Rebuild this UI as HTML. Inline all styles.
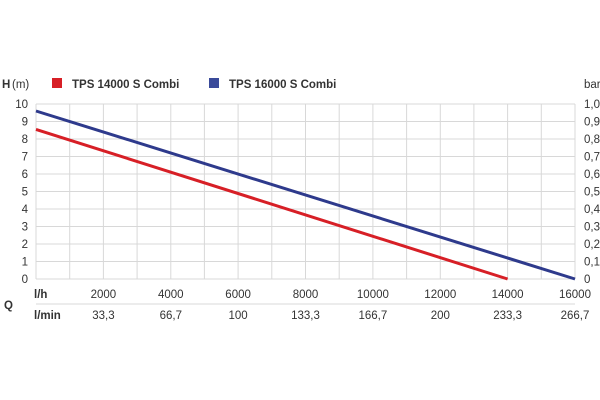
<!DOCTYPE html>
<html><head><style>body{margin:0;background:#fff}svg{display:block}text{font-family:"Liberation Sans",sans-serif;fill:#333;font-size:11.5px}.b{font-weight:bold}</style></head><body>
<svg width="600" height="400" xmlns="http://www.w3.org/2000/svg">
<g stroke="#d8d8d8" stroke-width="1">
<line x1="36" y1="104" x2="575" y2="104"/><line x1="36" y1="121.5" x2="575" y2="121.5"/><line x1="36" y1="139" x2="575" y2="139"/><line x1="36" y1="156.5" x2="575" y2="156.5"/><line x1="36" y1="174" x2="575" y2="174"/><line x1="36" y1="191.5" x2="575" y2="191.5"/><line x1="36" y1="209" x2="575" y2="209"/><line x1="36" y1="226.5" x2="575" y2="226.5"/><line x1="36" y1="244" x2="575" y2="244"/><line x1="36" y1="261.5" x2="575" y2="261.5"/><line x1="36" y1="279" x2="575" y2="279"/>
<line x1="36" y1="104" x2="36" y2="279"/><line x1="69.7" y1="104" x2="69.7" y2="279"/><line x1="103.4" y1="104" x2="103.4" y2="279"/><line x1="137.1" y1="104" x2="137.1" y2="279"/><line x1="170.8" y1="104" x2="170.8" y2="279"/><line x1="204.4" y1="104" x2="204.4" y2="279"/><line x1="238.1" y1="104" x2="238.1" y2="279"/><line x1="271.8" y1="104" x2="271.8" y2="279"/><line x1="305.5" y1="104" x2="305.5" y2="279"/><line x1="339.2" y1="104" x2="339.2" y2="279"/><line x1="372.9" y1="104" x2="372.9" y2="279"/><line x1="406.6" y1="104" x2="406.6" y2="279"/><line x1="440.3" y1="104" x2="440.3" y2="279"/><line x1="473.9" y1="104" x2="473.9" y2="279"/><line x1="507.6" y1="104" x2="507.6" y2="279"/><line x1="541.3" y1="104" x2="541.3" y2="279"/><line x1="575" y1="104" x2="575" y2="279"/>
<line x1="36" y1="304" x2="575" y2="304"/>
</g>
<line x1="36" y1="129.4" x2="507.6" y2="279" stroke="#d71f26" stroke-width="3"/>
<line x1="36" y1="111" x2="575" y2="279" stroke="#2e3a8c" stroke-width="3"/>
<text x="2" y="88" class="b">H</text><text x="12" y="88">(m)</text>
<rect x="52" y="78" width="10" height="10" fill="#d71f26"/><text x="72" y="88" class="b">TPS 14000 S Combi</text>
<rect x="209" y="78" width="10" height="10" fill="#3a4a9a"/><text x="229" y="88" class="b">TPS 16000 S Combi</text>
<text x="584" y="88">bar</text>
<g text-anchor="end"><text x="28" y="108">10</text><text x="28" y="125.5">9</text><text x="28" y="143">8</text><text x="28" y="160.5">7</text><text x="28" y="178">6</text><text x="28" y="195.5">5</text><text x="28" y="213">4</text><text x="28" y="230.5">3</text><text x="28" y="248">2</text><text x="28" y="265.5">1</text><text x="28" y="283">0</text></g>
<g><text x="584" y="108">1,0</text><text x="584" y="125.5">0,9</text><text x="584" y="143">0,8</text><text x="584" y="160.5">0,7</text><text x="584" y="178">0,6</text><text x="584" y="195.5">0,5</text><text x="584" y="213">0,4</text><text x="584" y="230.5">0,3</text><text x="584" y="248">0,2</text><text x="584" y="265.5">0,1</text><text x="584" y="283">0</text></g>
<text x="34" y="298" class="b">l/h</text><text x="34" y="319" class="b">l/min</text><text x="4" y="309" class="b">Q</text>
<g text-anchor="middle"><text x="103.4" y="298">2000</text><text x="170.8" y="298">4000</text><text x="238.1" y="298">6000</text><text x="305.5" y="298">8000</text><text x="372.9" y="298">10000</text><text x="440.3" y="298">12000</text><text x="507.6" y="298">14000</text><text x="575" y="298">16000</text>
<text x="103.4" y="319">33,3</text><text x="170.8" y="319">66,7</text><text x="238.1" y="319">100</text><text x="305.5" y="319">133,3</text><text x="372.9" y="319">166,7</text><text x="440.3" y="319">200</text><text x="507.6" y="319">233,3</text><text x="575" y="319">266,7</text></g>
</svg></body></html>
